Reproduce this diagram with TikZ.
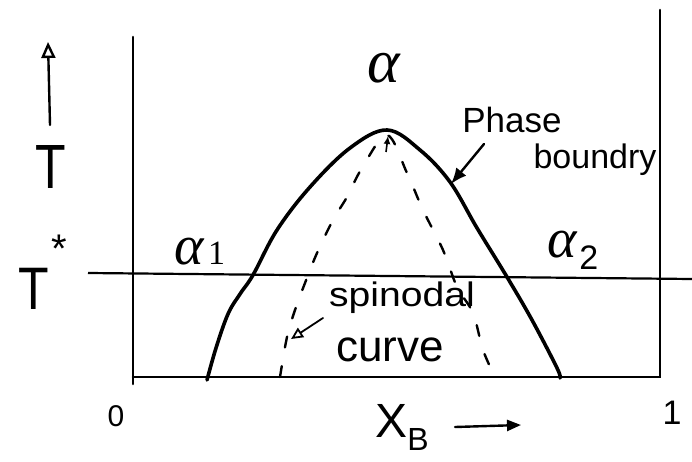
\documentclass[tikz,border=0pt]{standalone}
\usepackage{fontspec}
\setmainfont{Liberation Sans}
\newfontfamily\greekfont{Liberation Serif}
\usetikzlibrary{arrows.meta}
\tikzset{
  frame/.style={line width=2.6pt, line cap=round},
  boundary/.style={line width=3.6pt, line cap=round, line join=round},
  spinodal/.style={line width=2.4pt, dash pattern=on 11pt off 19pt, line cap=round},
  tline/.style={line width=2.2pt},
  lbl/.style={inner sep=0pt, anchor=center},
  pointer/.style={line width=2.4pt, line cap=round},
}
\begin{document}
\begin{tikzpicture}[x=1pt,y=-1pt]
\useasboundingbox (0,0) rectangle (692,462);
\fill[white] (0,0) rectangle (692,462);
% frame
\coordinate (BL) at (133,377);
\coordinate (BR) at (660,377);
\coordinate (TL) at (133,37);
\coordinate (TR) at (660,10);
\draw[frame] (133,384) -- (TL);
\draw[frame] (BL) -- (BR) -- (TR);
% T* line
\coordinate (TsL) at (88,273);
\coordinate (TsR) at (692,279);
\draw[tline] (TsL) -- (TsR);
% phase boundary
\draw[boundary] plot[smooth, tension=0.6] coordinates {(207,380) (216,348) (228,314) (240,294) (253,275) (277,230) (310,187) (350,148) (387,130) (420,150) (450,182) (477,228) (507,277) (532,320) (557,368) (560,378)};
% spinodal
\draw[spinodal] plot[smooth, tension=0.55] coordinates {(280,377) (287,337) (295,310) (305,283) (317,253) (333,220) (347,197) (362,168) (387,135) (407,173) (423,210) (443,250) (457,287) (473,313) (483,350) (495,377)};
\coordinate (apexA) at (386,152);
\coordinate (apexB) at (388,136);
\draw[line width=1.6pt, -{Latex[length=8pt,width=7pt]}] (apexA) -- (apexB);
% labels
\node[lbl] (alpha) at (384,68) {\fontsize{62}{62}\selectfont\greekfont\itshape α};
\node[lbl] (alpha1) at (200,252) {\fontsize{56}{56}\selectfont\greekfont\itshape α\hspace{4pt}\raisebox{0pt}{\fontsize{34}{34}\selectfont\upshape 1}};
\node[lbl] (alpha2) at (573,250) {\fontsize{56}{56}\selectfont\greekfont\itshape α\hspace{2pt}\raisebox{-12pt}{\fontsize{34}{34}\selectfont\normalfont 2}};
\node[lbl] (phase) at (512,120) {\fontsize{35}{35}\selectfont Phase};
\node[lbl] (boundry) at (595,160) {\fontsize{34}{34}\selectfont boundry};
\node[lbl] (spin) at (402,298) {\fontsize{34}{34}\selectfont\scalebox{1.15}[1]{spinodal}};
\node[lbl] (curve) at (390,350) {\fontsize{44}{44}\selectfont curve};
\node[lbl] (Tlab) at (51,167) {\fontsize{50}{50}\selectfont\scalebox{1}[1.25]{T}};
\node[lbl] (Tstar) at (34,289) {\fontsize{50}{50}\selectfont\scalebox{1}[1.2]{T}};
\node[lbl] (star) at (59,249) {\fontsize{40}{40}\selectfont *};
\node[lbl] (zero) at (116,416) {\fontsize{30}{30}\selectfont 0};
\node[lbl] (one) at (672,413) {\fontsize{34}{34}\selectfont 1};
\node[lbl] (XB) at (402,427) {\fontsize{48}{48}\selectfont X\raisebox{-13pt}{\fontsize{32}{32}\selectfont B}};
% arrows
\coordinate (Tarr0) at (50,125);
\coordinate (Tarr1) at (48,42);
\draw[pointer, -{Triangle[open,length=16pt,width=14pt]}] (Tarr0) -- (Tarr1);
\coordinate (pb0) at (484,144);
\coordinate (pb1) at (451,184);
\draw[pointer, -{Latex[length=16pt,width=13pt]}] (pb0) -- (pb1);
\coordinate (sp0) at (323,318);
\coordinate (sp1) at (291,339);
\draw[pointer, line width=1.8pt, -{Triangle[open,length=12pt,width=11pt]}] (sp0) -- (sp1);
\coordinate (xb0) at (455,427);
\coordinate (xb1) at (521,425);
\draw[pointer, -{Triangle[length=14pt,width=11pt]}] (xb0) -- (xb1);
\end{tikzpicture}
\end{document}
